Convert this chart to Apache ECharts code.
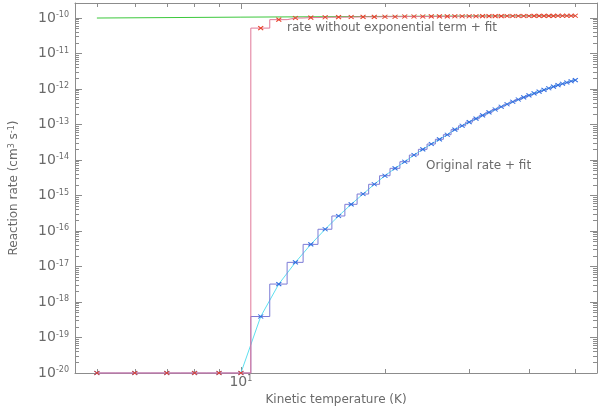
<!DOCTYPE html>
<html>
<head>
<meta charset="utf-8">
<script src="https://cdn.jsdelivr.net/npm/echarts@6/dist/echarts.min.js"></script>
<style>
html,body{margin:0;padding:0;background:#fff}
#chart{width:600px;height:408px}
</style>
</head>
<body>
<div id="chart"></div>
<script>
// kinetic temperature (K)
var temps = [5,6,7,8,9,10,11,12,13,14,15,16,17,18,19,20,21,22,23,24,25,26,27,28,29,30,
             31,32,33,34,35,36,37,38,39,40,41,42,43,44,45,46,47,48,49,50]

// rate without exponential term (red histogram)
var rateNoExp = [1e-20,1e-20,1e-20,1e-20,1e-20,1e-20,
    5.2e-11,9.0e-11,1.00e-10,1.03e-10,1.05e-10,1.06e-10,1.07e-10,1.08e-10,1.08e-10,1.09e-10,
    1.09e-10,1.10e-10,1.10e-10,1.10e-10,1.11e-10,1.11e-10,1.11e-10,1.12e-10,1.12e-10,1.12e-10,
    1.12e-10,1.13e-10,1.13e-10,1.13e-10,1.13e-10,1.14e-10,1.14e-10,1.14e-10,1.14e-10,1.14e-10,
    1.15e-10,1.15e-10,1.15e-10,1.15e-10,1.15e-10,1.16e-10,1.16e-10,1.16e-10,1.16e-10,1.16e-10]

// original rate (blue histogram), also followed by the cyan fit
var origRate = [1e-20,1e-20,1e-20,1e-20,1e-20,1e-20,
    3.9e-19,3.2e-18,1.31e-17,4.2e-17,1.12e-16,2.65e-16,5.65e-16,1.10e-15,2.07e-15,3.61e-15,
    5.83e-15,8.95e-15,1.38e-14,2.0e-14,2.82e-14,3.83e-14,5.16e-14,7.16e-14,9.2e-14,1.17e-13,
    1.46e-13,1.81e-13,2.2e-13,2.65e-13,3.16e-13,3.73e-13,4.37e-13,5.06e-13,5.81e-13,6.64e-13,
    7.53e-13,8.47e-13,9.48e-13,1.05e-12,1.17e-12,1.29e-12,1.41e-12,1.53e-12,1.66e-12,1.78e-12]

// fit of the rate without exponential term (green)
var fitNoExpT = [5,10,20,30,50]
var fitNoExp = [1.00e-10,1.06e-10,1.11e-10,1.14e-10,1.17e-10]

// ticks
var xMajor = [10]
var xMinor = [5,6,7,8,9,20,30,40,50]
var yExps = [-20,-19,-18,-17,-16,-15,-14,-13,-12,-11,-10]

var yMajor = []
var yMinor = []
yExps.forEach(function(e){
    yMajor.push(Number('1e' + e))
    if (e < -10) {
        for (var m = 2; m <= 9; m++) yMinor.push(Number(m + 'e' + e))
    }
})

var chart = echarts.init(document.getElementById('chart'))

var axisColor = '#8c8c8c'
var textColor = '#6a6a6a'
var font = 'DejaVu Sans'
var xMin = 4.5, xMax = 55.5
var yMin = 1e-20, yMax = 2.65e-10

function pairs(xs, ys, from) {
    var out = []
    for (var i = 0; i < xs.length; i++) {
        if (from == null || xs[i] >= from) out.push([xs[i], ys[i]])
    }
    return out
}

function xAx(pos, ticks, len, showLine, label) {
    var a = {
        type: 'log', position: pos, min: xMin, max: xMax,
        axisLine: {show: showLine, lineStyle: {color: axisColor, width: 1}},
        axisTick: {show: true, inside: true, length: len, customValues: ticks,
                   lineStyle: {color: axisColor, width: 1}},
        axisLabel: {show: false},
        splitLine: {show: false}
    }
    if (label) {
        a.axisLabel = {
            show: true, customValues: ticks, margin: 2, color: textColor,
            formatter: function(v){ return '{b|10}{s|' + Math.round(Math.log10(v)) + '}' },
            rich: {
                b: {fontFamily: font, fontSize: 14, lineHeight: 14, padding: [4,0,0,0], verticalAlign: 'bottom', color: textColor},
                s: {fontFamily: font, fontSize: 8, lineHeight: 8, verticalAlign: 'top', color: textColor}
            }
        }
        a.name = 'Kinetic temperature (K)'
        a.nameLocation = 'middle'
        a.nameGap = 20
        a.nameTextStyle = {fontFamily: font, fontSize: 12, color: textColor}
    }
    return a
}

function yAx(pos, ticks, len, showLine, label) {
    var a = {
        type: 'log', position: pos, min: yMin, max: yMax,
        axisLine: {show: showLine, lineStyle: {color: axisColor, width: 1}},
        axisTick: {show: true, inside: true, length: len, customValues: ticks,
                   lineStyle: {color: axisColor, width: 1}},
        axisLabel: {show: false},
        splitLine: {show: false}
    }
    if (label) {
        a.axisLabel = {
            show: true, customValues: ticks, margin: 6, color: textColor,
            formatter: function(v){ return '{b|10}{s|' + Math.round(Math.log10(v)) + '}' },
            rich: {
                b: {fontFamily: font, fontSize: 14, lineHeight: 14, padding: [0,0,4,0], verticalAlign: 'top', color: textColor},
                s: {fontFamily: font, fontSize: 8, lineHeight: 8, verticalAlign: 'top', color: textColor}
            }
        }
        a.name = '{n|Reaction rate (cm}{s|3}{n| s}{s|-1}{n|)}'
        a.nameLocation = 'middle'
        a.nameRotate = 90
        a.nameGap = 55
        a.nameTextStyle = {
            rich: {
                n: {fontFamily: font, fontSize: 12, lineHeight: 12, padding: [4,0,0,0], verticalAlign: 'bottom', color: textColor},
                s: {fontFamily: font, fontSize: 8, lineHeight: 8, verticalAlign: 'top', color: textColor}
            }
        }
    }
    return a
}

var cross = 'path://M0,0L8,8M8,0L0,8'

var option = {
    animation: false,
    backgroundColor: '#fff',
    grid: {left: 75, right: 3, top: 3, bottom: 35, containLabel: false, outerBoundsMode: 'none'},
    xAxis: [
        xAx('bottom', xMajor, 6, true, true),
        xAx('bottom', xMinor, 4, false, false),
        xAx('top', xMajor, 6, true, false),
        xAx('top', xMinor, 4, false, false)
    ],
    yAxis: [
        yAx('left', yMajor, 7, true, true),
        yAx('left', yMinor, 4, false, false),
        yAx('right', yMajor, 7, true, false),
        yAx('right', yMinor, 4, false, false)
    ],
    graphic: [
        {type: 'text', x: 287, y: 28, style: {text: 'rate without exponential term + fit',
            fill: textColor, fontFamily: font, fontSize: 12, verticalAlign: 'middle'}},
        {type: 'text', x: 426, y: 166, style: {text: 'Original rate + fit',
            fill: textColor, fontFamily: font, fontSize: 12, verticalAlign: 'middle'}}
    ],
    series: [
        {
            name: 'fit no exp', type: 'line', data: pairs(fitNoExpT, fitNoExp),
            showSymbol: false, clip: false, z: 1,
            lineStyle: {color: '#3cc83c', width: 1}
        },
        {
            name: 'fit original', type: 'line', data: pairs(temps, origRate, 10),
            showSymbol: false, clip: false, z: 2,
            lineStyle: {color: '#5ee0f0', width: 1}
        },
        {
            name: 'original rate', type: 'line', step: 'middle',
            data: pairs(temps, origRate), clip: false, z: 3,
            symbol: cross, symbolSize: [5,4],
            itemStyle: {color: 'rgba(0,0,0,0)', borderColor: '#2f6de0', borderWidth: 1},
            lineStyle: {color: '#7b7bd6', width: 1}
        },
        {
            name: 'rate without exponential term', type: 'line', step: 'middle',
            data: pairs(temps, rateNoExp), clip: false, z: 4,
            symbol: cross, symbolSize: [5,4],
            itemStyle: {color: 'rgba(0,0,0,0)', borderColor: '#e8402a', borderWidth: 1},
            lineStyle: {color: '#e07898', width: 1}
        }
    ]
}

chart.setOption(option)
</script>
</body>
</html>
